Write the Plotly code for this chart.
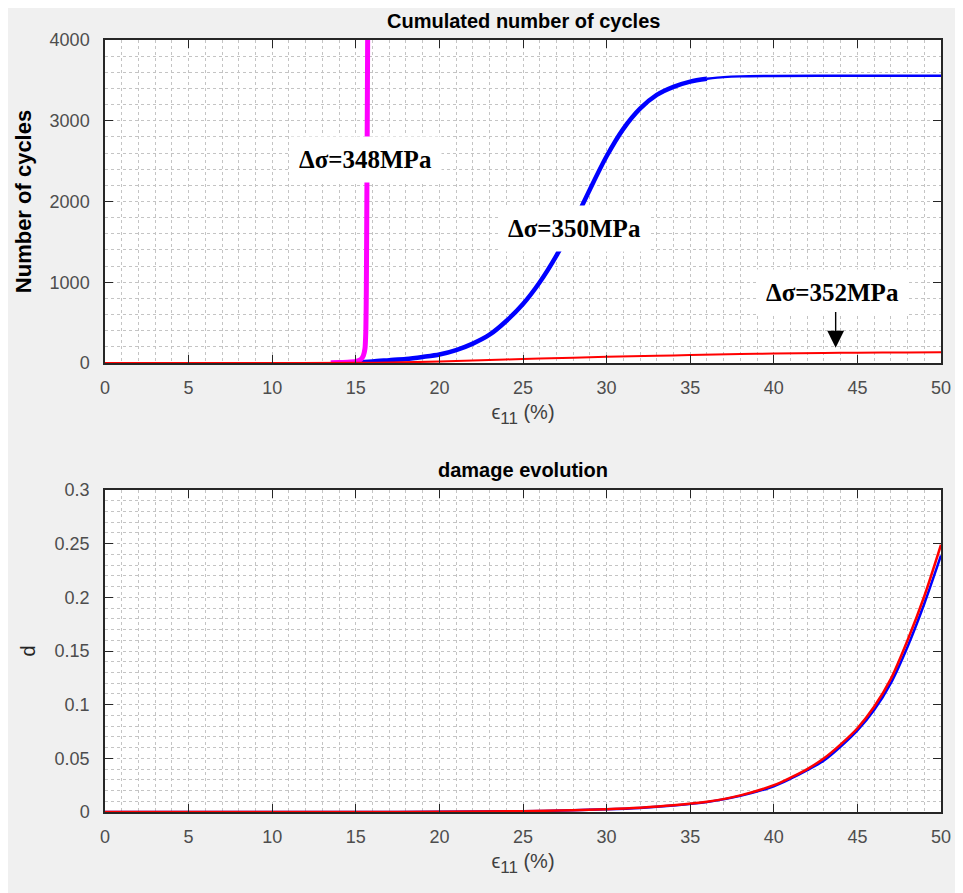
import plotly.graph_objects as go

# ---------------- data ----------------
# Top panel: cumulated number of cycles vs strain eps11 (%)
eps_348 = [13.5, 14, 14.5, 15.0, 15.3, 15.45, 15.55, 15.6, 15.63, 15.66, 15.69, 15.72]
cyc_348 = [3, 6, 10, 20, 45, 90, 180, 400, 900, 2000, 3200, 4500]

eps_350 = [14, 15, 16, 17, 18, 19, 20, 21, 22, 23, 24, 25, 26, 27, 28, 29, 30,
           31, 32, 33, 34, 35, 36, 37, 38, 40, 45, 50]
cyc_350 = [4, 10, 20, 35, 50, 75, 105, 160, 240, 350, 520, 730, 1000, 1330, 1720, 2150, 2560,
           2900, 3150, 3320, 3420, 3485, 3520, 3540, 3550, 3555, 3558, 3558]

eps_352 = [0, 5, 10, 15, 17, 20, 22, 25, 28, 30, 33, 35, 38, 40, 43, 45, 48, 50]
cyc_352 = [0, 0, 1, 3, 6, 18, 32, 50, 66, 76, 90, 98, 110, 117, 124, 127, 130, 132]

# Bottom panel: damage evolution
eps_d = [0, 5, 10, 15, 20, 25, 28, 30, 32, 34, 36, 38, 40, 41, 42, 43, 44, 45, 46, 47, 48, 49, 50]
d_red = [0, 0, 0, 0, 0.0002, 0.0008, 0.0017, 0.0026, 0.004, 0.0062, 0.0095, 0.0155, 0.025,
         0.032, 0.040, 0.050, 0.063, 0.078, 0.098, 0.124, 0.160, 0.201, 0.249]
d_blue = [0, 0, 0, 0, 0.0002, 0.0007, 0.0016, 0.0025, 0.0038, 0.006, 0.0092, 0.015, 0.024,
          0.031, 0.039, 0.048, 0.061, 0.076, 0.095, 0.120, 0.154, 0.194, 0.239]

x_ticks = [0, 5, 10, 15, 20, 25, 30, 35, 40, 45, 50]
labels = ["Δσ=348MPa", "Δσ=350MPa", "Δσ=352MPa"]

# ---------------- figure ----------------
# the page body adds an 8 px white margin, which forms the white border
OFF = 8
W, H = 963 - OFF, 893 - OFF
ML, MR, MT, MB = 105 - OFF, 22, 40 - OFF, 81
PW, PH = W - ML - MR, H - MT - MB


def px_y(p):
    # page pixel (from top) -> paper fraction
    return (H - MB - (p - OFF)) / PH


fig = go.Figure()

# top panel
split = eps_350.index(36)
fig.add_trace(go.Scatter(x=eps_350[:split + 1], y=cyc_350[:split + 1], mode="lines",
                         line=dict(color="#0000ff", width=4.5, shape="spline", smoothing=0.8),
                         xaxis="x", yaxis="y", showlegend=False))
fig.add_trace(go.Scatter(x=eps_350[split:], y=cyc_350[split:], mode="lines",
                         line=dict(color="#0000ff", width=2.4, shape="spline", smoothing=0.8),
                         xaxis="x", yaxis="y", showlegend=False))
fig.add_trace(go.Scatter(x=eps_348, y=cyc_348, mode="lines",
                         line=dict(color="#ff00ff", width=5, shape="spline", smoothing=0.6),
                         xaxis="x", yaxis="y", showlegend=False))
fig.add_trace(go.Scatter(x=eps_352, y=cyc_352, mode="lines",
                         line=dict(color="#ff0000", width=2, shape="spline"),
                         xaxis="x", yaxis="y", showlegend=False))

# bottom panel
fig.add_trace(go.Scatter(x=eps_d, y=d_blue, mode="lines",
                         line=dict(color="#0000ff", width=2.5, shape="spline", smoothing=0.8),
                         xaxis="x2", yaxis="y2", showlegend=False))
fig.add_trace(go.Scatter(x=eps_d, y=d_red, mode="lines",
                         line=dict(color="#ff0000", width=2.5, shape="spline", smoothing=0.8),
                         xaxis="x2", yaxis="y2", showlegend=False))

axis_col = "#262626"
SANS = "Liberation Sans, Arial, sans-serif"
tick_font = dict(family=SANS, size=18, color="#4d4d4d")
grid_col = "#c4c4c4"

xtitle = "ϵ<sub><span style='font-size:17px'>11</span></sub> (%)"

common_x = dict(range=[0, 50], tickvals=x_ticks, ticks="inside", ticklen=8, tickwidth=1.3,
                tickcolor=axis_col, showline=True, linecolor=axis_col, linewidth=1.5,
                mirror="ticks", showgrid=True, gridcolor=grid_col, griddash="dot", gridwidth=1,
                zeroline=False, tickfont=tick_font, ticklabelstandoff=8,
                minor=dict(dtick=1, showgrid=True, gridcolor=grid_col, griddash="dot",
                           gridwidth=1, ticks=""),
                title=dict(text=xtitle, standoff=8,
                           font=dict(family=SANS, size=20, color="#404040")))
common_y = dict(ticks="inside", ticklen=8, tickwidth=1.3, tickcolor=axis_col, showline=True,
                linecolor=axis_col, linewidth=1.5, mirror="ticks", showgrid=True,
                gridcolor=grid_col, griddash="dot", gridwidth=1, zeroline=False,
                tickfont=tick_font, ticklabelstandoff=10)

fig.update_layout(
    width=W, height=H,
    margin=dict(l=ML, r=MR, t=MT, b=MB, autoexpand=False),
    paper_bgcolor="#f0f0f0", plot_bgcolor="white",
    xaxis=dict(common_x, domain=[0, 1], anchor="y"),
    yaxis=dict(common_y, domain=[px_y(363), 1], anchor="x", range=[0, 4000], dtick=1000,
               minor=dict(dtick=200, showgrid=True, gridcolor=grid_col, griddash="dot",
                          gridwidth=1, ticks=""),
               title=dict(text="<b>Number of cycles</b>", standoff=12,
                          font=dict(family=SANS, size=22, color="#000000"))),
    xaxis2=dict(common_x, domain=[0, 1], anchor="y2"),
    yaxis2=dict(common_y, domain=[0, px_y(490)], anchor="x2", range=[0, 0.3], dtick=0.05,
                minor=dict(dtick=0.01, showgrid=True, gridcolor=grid_col, griddash="dot",
                           gridwidth=1, ticks=""),
                title=dict(text="d", standoff=14,
                           font=dict(family=SANS, size=20, color="#262626"))),
)

title_font = dict(family=SANS, size=20, color="#000000")
fig.add_annotation(text="<b>Cumulated number of cycles</b>", xref="paper", yref="paper",
                   x=0.5, y=px_y(21), showarrow=False, font=title_font,
                   xanchor="center", yanchor="middle")
fig.add_annotation(text="<b>damage evolution</b>", xref="paper", yref="paper",
                   x=0.5, y=px_y(470), showarrow=False, font=title_font,
                   xanchor="center", yanchor="middle")

lab_font = dict(family="Liberation Serif, Times New Roman, serif", size=25, color="#000000")
for txt, xx, yy in zip(labels, [15.55, 28.1, 43.5], [2520, 1660, 867]):
    fig.add_annotation(text="<b>" + txt + "</b>", x=xx, y=yy, xref="x", yref="y",
                       showarrow=False, font=lab_font, bgcolor="white", borderpad=9)

# arrow pointing at the 352 MPa curve
fig.add_annotation(text="", x=43.7, y=190, ax=43.7, ay=650, xref="x", yref="y",
                   axref="x", ayref="y", showarrow=True, arrowhead=2, arrowsize=2.4,
                   arrowwidth=1.4, arrowcolor="#000000")

fig.write_html("out.html")
